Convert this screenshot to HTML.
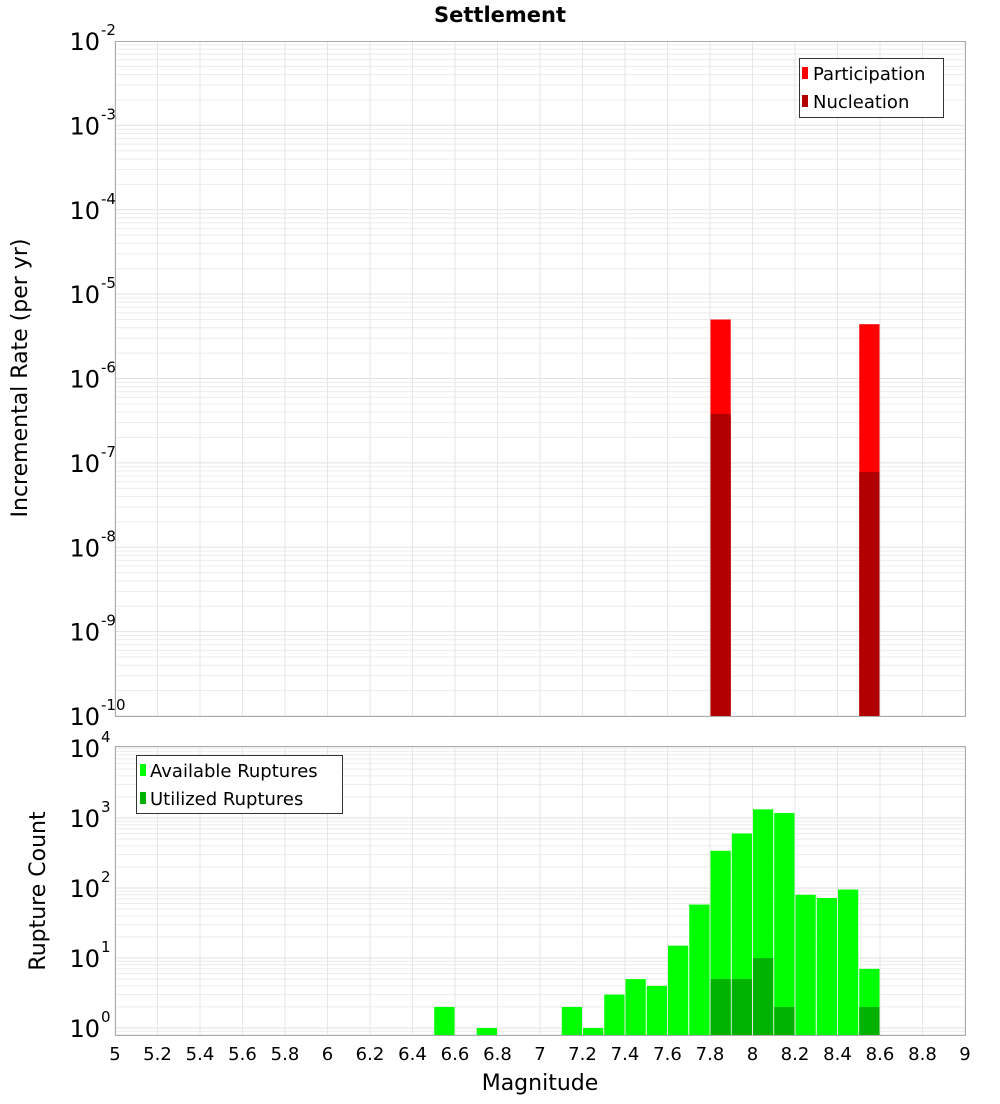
<!DOCTYPE html>
<html><head><meta charset="utf-8"><style>
body{margin:0;background:#fff;width:1000px;height:1100px;overflow:hidden;font-family:"DejaVu Sans","Liberation Sans",sans-serif;}
svg text{font-family:"DejaVu Sans","Liberation Sans",sans-serif;}
</style></head><body>
<svg id="chart" width="1000" height="1100" xmlns="http://www.w3.org/2000/svg">
<text x="500" y="22" text-anchor="middle" font-size="21" font-weight="bold">Settlement</text>
<g id="topPanel"></g>
<g id="botPanel"></g>
<text transform="translate(27,378) rotate(-90)" text-anchor="middle" font-size="22">Incremental Rate (per yr)</text>
<text transform="translate(45,891) rotate(-90)" text-anchor="middle" font-size="22">Rupture Count</text>
<text x="540" y="1090" text-anchor="middle" font-size="22">Magnitude</text>
<g>
<rect x="799.5" y="58.5" width="144" height="59" fill="#fff" stroke="#333"/>
<rect x="802" y="67" width="6" height="12" fill="#ff0000"/>
<text x="813" y="80" font-size="18">Participation</text>
<rect x="802" y="95" width="6" height="12" fill="#b20000"/>
<text x="813" y="108" font-size="18">Nucleation</text>
</g>
<g>
<rect x="136.5" y="755.5" width="206" height="58" fill="#fff" stroke="#333"/>
<rect x="140" y="764" width="6" height="12" fill="#00ff00"/>
<text x="150" y="777" font-size="18">Available Ruptures</text>
<rect x="140" y="792" width="6" height="12" fill="#00b200"/>
<text x="150" y="805" font-size="18">Utilized Ruptures</text>
</g>
</svg>
<script>
const mags=[6.55,6.75,7.15,7.25,7.35,7.45,7.55,7.65,7.75,7.85,7.95,8.05,8.15,8.25,8.35,8.45,8.55];
const available=[2,1,2,1,3,5,4,15,58,340,600,1330,1180,80,72,95,7];
const utilMags=[7.85,7.95,8.05,8.15,8.55];
const utilized=[5,5,10,2,2];
const rateMags=[7.85,8.55];
const participation=[5.0e-6,4.4e-6];
const nucleation=[3.8e-7,7.8e-8];
const xTicks=[5,5.2,5.4,5.6,5.8,6,6.2,6.4,6.6,6.8,7,7.2,7.4,7.6,7.8,8,8.2,8.4,8.6,8.8,9];
const topExps=[-10,-9,-8,-7,-6,-5,-4,-3,-2];
const botExps=[0,1,2,3,4];
const NS="http://www.w3.org/2000/svg";
const L=115,R=965;
const x=m=>L+(m-5)/4*(R-L);
const T1=41,B1=716;
const yTop=v=>B1-(Math.log10(v)+10)/8*(B1-T1);
const T2=746,B2=1035;
const yBot=v=>1028-Math.log10(v)*70;
function mk(p,tag,a){const e=document.createElementNS(NS,tag);for(const k in a)e.setAttribute(k,a[k]);p.appendChild(e);return e;}
function frame(g,T,B,yf,exps){
 for(const e of exps){for(let k=1;k<10;k++){const v=k*Math.pow(10,e);const yy=yf(v);if(yy<T||yy>B)continue;
  const ln=mk(g,'line',{x1:L,x2:R,y1:yy,y2:yy,stroke:k==1?'#e2e2e2':'#ececec','stroke-width':1});
  
  }}
 for(const t of xTicks){const ln=mk(g,'line',{x1:x(t),x2:x(t),y1:T,y2:B,stroke:'#e6e6e6'});
  
  }
}
function border(g,T,B){const r=mk(g,'rect',{x:L+0.5,y:T+0.5,width:R-L,height:B-T,fill:'none',stroke:'#aaa'});
 
 }
function ylabels(g,yf,exps){for(const e of exps){const yy=yf(Math.pow(10,e));
 const t=mk(g,'text',{x:100,y:yy+9,'text-anchor':'end','font-size':24});t.textContent='10';
 
 
 const s=mk(g,'text',{x:101,y:yy-6,'font-size':15});s.textContent=String(e);
 
 }}
const gTop=document.getElementById('topPanel'),gBot=document.getElementById('botPanel');
frame(gTop,T1,B1,yTop,topExps.slice(0,-1));
frame(gBot,T2,B2,yBot,[-1,0,1,2,3,4]);
const bw=(x(5.1)-x(5))-1;
rateMags.forEach((m,i)=>{
 const r=mk(gTop,'rect',{x:x(m-0.05)+0.5,y:yTop(participation[i]),width:bw,height:B1-yTop(participation[i]),fill:'#ff0000'});
 
 
 const n=mk(gTop,'rect',{x:x(m-0.05)+0.5,y:yTop(nucleation[i]),width:bw,height:B1-yTop(nucleation[i]),fill:'#b20000'});
 
 
});
mags.forEach((m,i)=>{
 const r=mk(gBot,'rect',{x:x(m-0.05)+0.5,y:yBot(available[i]),width:bw,height:B2-yBot(available[i]),fill:'#00ff00'});
 
 
});
utilMags.forEach((m,i)=>{
 const r=mk(gBot,'rect',{x:x(m-0.05)+0.5,y:yBot(utilized[i]),width:bw,height:B2-yBot(utilized[i]),fill:'#00b200'});
 
 
});
border(gTop,T1,B1);border(gBot,T2,B2);
ylabels(gTop,yTop,topExps);ylabels(gBot,yBot,botExps);
for(const t of xTicks){const tx=mk(gBot,'text',{x:x(t),y:1060,'text-anchor':'middle','font-size':18});tx.textContent=String(t);
 
 }
</script>
</body></html>
